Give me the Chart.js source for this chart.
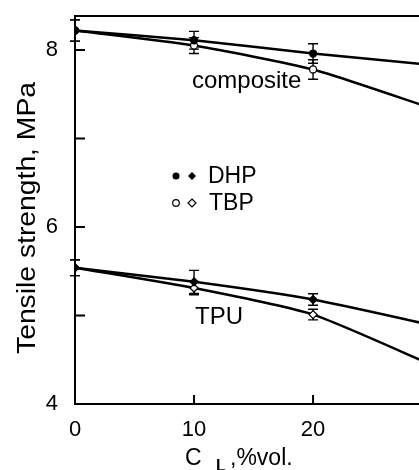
<!DOCTYPE html>
<html>
<head>
<meta charset="utf-8">
<script src="https://cdn.jsdelivr.net/npm/chart.js@4.4.1/dist/chart.umd.min.js"></script>
<style>
    html, body { margin: 0; padding: 0; background: #fff; }
</style>
</head>
<body>
<canvas id="myChart" width="419" height="470"></canvas>
<script>
// values
var xValues = [0, 10, 20, 30];
var compositeDHP = [8.22, 8.11, 7.96, 7.83];
var compositeTBP = [8.22, 8.05, 7.78, 7.34];
var tpuDHP = [5.54, 5.38, 5.18, 4.89];
var tpuTBP = [5.54, 5.31, 5.01, 4.44];

var compositeDHPErr = [0.12, 0.10, 0.11, 0];
var compositeTBPErr = [0.12, 0.09, 0.11, 0];
var tpuDHPErr = [0.09, 0.13, 0.065, 0];
var tpuTBPErr = [0.09, 0.075, 0.06, 0];

var xTicks = [0, 10, 20];
var yTicks = [4, 6, 8];
var yTickMarks = [5, 6, 7, 8];
var xTickMarks = [10, 20];

var FONT = "'Liberation Sans', Arial, sans-serif";

function toPoints(ys) {
    return xValues.map((x, i) => ({ x: x, y: ys[i] }));
}

function makeSet(label, ys, errs, style, filled) {
    return {
        label: label,
        data: toPoints(ys),
        errors: errs,
        borderColor: '#000',
        borderWidth: 2.5,
        tension: 0.2,
        pointStyle: style,
        pointRadius: style == 'circle' ? 3.5 : 4,
        pointBorderWidth: 1.3,
        pointBorderColor: '#000',
        pointBackgroundColor: filled ? '#000' : '#fff'
    };
}

var decor = {
    id: 'decor',
    beforeDatasetsDraw(chart) {
        const ctx = chart.ctx;
        const xs = chart.scales.x, ys = chart.scales.y;
        ctx.save();
        ctx.strokeStyle = '#000';
        ctx.lineWidth = 1.4;
        chart.data.datasets.forEach((ds) => {
            ds.data.forEach((p, i) => {
                const e = ds.errors[i];
                if (!e) return;
                const px = xs.getPixelForValue(p.x);
                const top = ys.getPixelForValue(p.y + e);
                const bot = ys.getPixelForValue(p.y - e);
                ctx.beginPath();
                ctx.moveTo(px, top); ctx.lineTo(px, bot);
                ctx.moveTo(px - 5, top); ctx.lineTo(px + 5, top);
                ctx.moveTo(px - 5, bot); ctx.lineTo(px + 5, bot);
                ctx.stroke();
            });
        });
        ctx.restore();
    },
    afterDraw(chart) {
        const ctx = chart.ctx;
        const area = chart.chartArea;
        const xs = chart.scales.x, ys = chart.scales.y;
        ctx.save();
        ctx.strokeStyle = '#000';
        ctx.fillStyle = '#000';

        // top frame line
        ctx.lineWidth = 2;
        ctx.beginPath();
        ctx.moveTo(area.left, area.top);
        ctx.lineTo(area.right, area.top);
        ctx.stroke();

        // inward ticks
        ctx.lineWidth = 2;
        ctx.beginPath();
        yTickMarks.forEach((v) => {
            const py = ys.getPixelForValue(v);
            ctx.moveTo(area.left, py); ctx.lineTo(area.left + 10, py);
        });
        xTickMarks.forEach((v) => {
            const px = xs.getPixelForValue(v);
            ctx.moveTo(px, area.bottom); ctx.lineTo(px, area.bottom - 9);
        });
        ctx.stroke();

        // curve labels
        ctx.textBaseline = 'alphabetic';
        ctx.textAlign = 'left';
        ctx.font = '24px ' + FONT;
        ctx.fillText('composite', 192, 88);
        ctx.fillText('TPU', 195, 324);

        // legend
        ctx.font = '23px ' + FONT;
        ctx.fillText('DHP', 208, 183);
        ctx.fillText('TBP', 209, 210);
        ctx.lineWidth = 1.2;
        ctx.beginPath(); ctx.arc(176, 176, 3.5, 0, Math.PI * 2); ctx.fill();
        ctx.beginPath();
        ctx.moveTo(192, 172); ctx.lineTo(196, 176); ctx.lineTo(192, 180); ctx.lineTo(188, 176);
        ctx.closePath(); ctx.fill();
        ctx.beginPath(); ctx.arc(176, 203, 3.3, 0, Math.PI * 2); ctx.stroke();
        ctx.beginPath();
        ctx.moveTo(192, 199); ctx.lineTo(196, 203); ctx.lineTo(192, 207); ctx.lineTo(188, 203);
        ctx.closePath(); ctx.stroke();

        // x axis title with subscript
        ctx.font = '23px ' + FONT;
        ctx.fillText('C', 185, 465);
        ctx.font = 'bold 16px ' + FONT;
        ctx.fillText('L', 216, 471);
        ctx.font = '23px ' + FONT;
        ctx.fillText(',%vol.', 230, 465);

        // y axis title
        ctx.translate(35, 218);
        ctx.rotate(-Math.PI / 2);
        ctx.font = '25px ' + FONT;
        const w = ctx.measureText('Tensile strength, MPa').width;
        ctx.scale(272 / w, 1);
        ctx.textAlign = 'center';
        ctx.fillText('Tensile strength, MPa', 0, 0);
        ctx.restore();
    }
};

const ctx = document.getElementById('myChart').getContext('2d');

const myChart = new Chart(ctx, {
    type: 'line',
    data: {
        datasets: [
            makeSet('composite DHP', compositeDHP, compositeDHPErr, 'circle', true),
            makeSet('composite TBP', compositeTBP, compositeTBPErr, 'circle', false),
            makeSet('TPU DHP', tpuDHP, tpuDHPErr, 'rectRot', true),
            makeSet('TPU TBP', tpuTBP, tpuTBPErr, 'rectRot', false)
        ]
    },
    options: {
        responsive: false,
        animation: false,
        devicePixelRatio: 1,
        layout: { autoPadding: false, padding: { top: 16, right: 0, left: 0, bottom: 0 } },
        scales: {
            x: {
                type: 'linear',
                min: 0,
                max: 28.9,
                afterFit: (s) => {
                    s.height = 66;
                    s.paddingLeft = 0; s.paddingRight = 0;
                },
                afterBuildTicks: (s) => { s.ticks = xTicks.map((v) => ({ value: v })); },
                grid: { display: false, drawTicks: false },
                border: { display: true, color: '#000', width: 2 },
                ticks: {
                    color: '#000',
                    padding: 13,
                    maxRotation: 0,
                    autoSkip: false,
                    font: { size: 22, family: FONT }
                }
            },
            y: {
                type: 'linear',
                min: 4,
                max: 8.384,
                afterFit: (s) => {
                    s.width = 75;
                    s.paddingTop = 0; s.paddingBottom = 0;
                },
                afterBuildTicks: (s) => { s.ticks = yTicks.map((v) => ({ value: v })); },
                grid: { display: false, drawTicks: false },
                border: { display: true, color: '#000', width: 2 },
                ticks: {
                    color: '#000',
                    padding: 17,
                    font: { size: 22, family: FONT }
                }
            }
        },
        plugins: {
            legend: { display: false },
            tooltip: { enabled: false }
        }
    },
    plugins: [decor]
});
</script>
</body>
</html>
